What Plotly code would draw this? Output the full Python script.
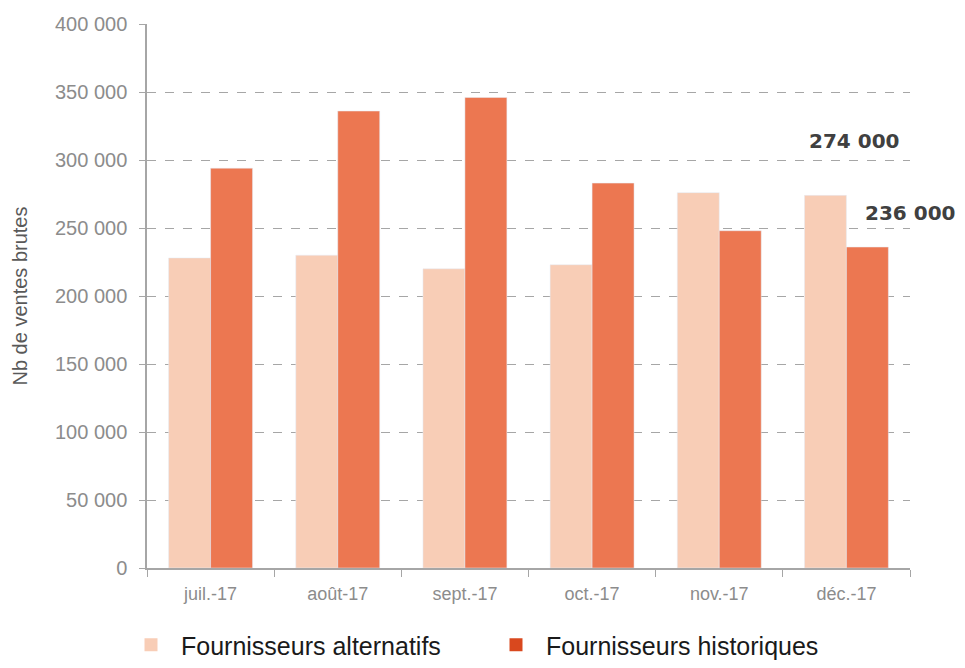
import plotly.graph_objects as go

months = ["juil.-17", "août-17", "sept.-17", "oct.-17", "nov.-17", "déc.-17"]
alternatifs = [228000, 230000, 220000, 223000, 276000, 274000]
historiques = [294000, 336000, 346000, 283000, 248000, 236000]
y_ticks = [0, 50000, 100000, 150000, 200000, 250000, 300000, 350000, 400000]
y_tick_labels = ["0", "50 000", "100 000", "150 000", "200 000", "250 000", "300 000", "350 000", "400 000"]
series_names = ["Fournisseurs alternatifs", "Fournisseurs historiques"]
callouts = ["274 000", "236 000"]

c_alt = "#f8cdb6"
c_hist = "#ec7751"
c_hist_leg = "#d9481e"

W, H = 949, 652

fig = go.Figure()
fig.add_trace(go.Bar(x=months, y=alternatifs, name=series_names[0], marker_color=c_alt,
                     showlegend=False))
fig.add_trace(go.Bar(x=months, y=historiques, name=series_names[1], marker_color=c_hist,
                     showlegend=False))
fig.add_trace(go.Scatter(x=[None], y=[None], mode="markers", name=series_names[0],
                         marker=dict(symbol="square", size=13, color=c_alt)))
fig.add_trace(go.Scatter(x=[None], y=[None], mode="markers", name=series_names[1],
                         marker=dict(symbol="square", size=13, color=c_hist_leg)))

ann_font = dict(size=20, color="#404040", family="DejaVu Sans, Liberation Sans")
fig.add_annotation(text="<b>" + callouts[0] + "</b>", xref="paper", yref="y",
                   x=0.927, y=314000, xanchor="center", yanchor="middle", showarrow=False,
                   font=ann_font)
fig.add_annotation(text="<b>" + callouts[1] + "</b>", xref="paper", yref="y",
                   x=1.0, y=261000, xanchor="center", yanchor="middle", showarrow=False,
                   font=ann_font)

fig.update_layout(
    width=W, height=H,
    margin=dict(l=139, r=47, t=16, b=92, autoexpand=False),
    plot_bgcolor="white", paper_bgcolor="white",
    barmode="group", bargap=0.34, bargroupgap=0,
    font=dict(family="Liberation Sans, Arial", color="#8c8c8c"),
    legend=dict(orientation="h", xref="container", yref="container",
                x=113 / W, xanchor="left", y=15 / H, yanchor="middle",
                font=dict(size=25, color="#1a1a1a"), itemwidth=50,
                traceorder="normal", entrywidth=300),
    showlegend=True,
)
fig.update_xaxes(
    type="category", showline=True, linecolor="#a6a6a6", linewidth=1.5,
    ticks="outside", tickson="boundaries", ticklen=7, tickcolor="#a6a6a6",
    tickfont=dict(size=18, color="#8c8c8c"), ticklabelstandoff=9,
    showgrid=False, automargin=False,
)
fig.update_yaxes(
    range=[0, 400000], tickvals=y_ticks, ticktext=y_tick_labels,
    showline=True, linecolor="#a6a6a6", linewidth=1.5,
    ticks="outside", ticklen=6, tickcolor="#a6a6a6",
    tickfont=dict(size=20, color="#8c8c8c"), ticklabelstandoff=8,
    showgrid=True, gridcolor="#a6a6a6", griddash="dash", gridwidth=1,
    zeroline=False, automargin=False,
    title=dict(text="Nb de ventes brutes", font=dict(size=20, color="#595959"), standoff=22),
)

fig.write_html("out.html")
